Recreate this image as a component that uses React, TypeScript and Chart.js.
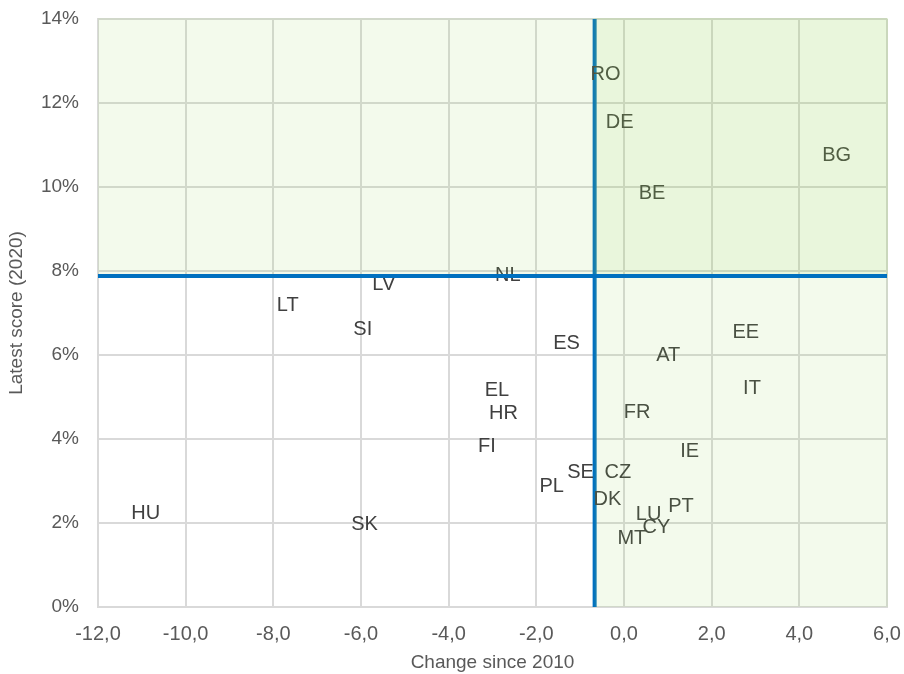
import React, { useEffect, useRef } from "react";
import { Chart, registerables } from "chart.js";

Chart.register(...registerables);

const countries = ["RO", "DE", "BG", "BE", "NL", "LV", "LT", "SI", "ES", "EE", "AT", "IT", "EL", "HR", "FR", "FI", "IE", "SE", "CZ", "PL", "DK", "PT", "LU", "CY", "MT", "HU", "SK"];
const changeSince2010 = [-0.42, -0.10, 4.85, 0.64, -2.65, -5.48, -7.67, -5.96, -1.31, 2.78, 1.01, 2.92, -2.90, -2.75, 0.30, -3.13, 1.50, -0.99, -0.14, -1.65, -0.38, 1.30, 0.56, 0.74, 0.18, -10.91, -5.92];
const latestScore2020 = [12.67, 11.53, 10.76, 9.85, 7.90, 7.68, 7.19, 6.61, 6.27, 6.53, 6.00, 5.20, 5.16, 4.61, 4.64, 3.81, 3.71, 3.20, 3.21, 2.86, 2.56, 2.40, 2.20, 1.89, 1.63, 2.22, 1.97];

const averageChange = -0.67;
const averageScore = 7.88;

const xMin = -12;
const xMax = 6;
const xStep = 2;
const yMin = 0;
const yMax = 14;
const yStep = 2;

const xTitle = "Change since 2010";
const yTitle = "Latest score (2020)";

const FONT = "'Liberation Sans', Arial, sans-serif";

export default function App() {
  const ref = useRef<HTMLCanvasElement | null>(null);

  useEffect(() => {
    document.body.style.margin = "0";
    const canvas = ref.current;
    if (!canvas) return;

    const quadrantPlugin = {
      id: "quadrants",
      afterDatasetsDraw(chart: any) {
        const { ctx, chartArea, scales } = chart;
        const xs = scales.x;
        const ys = scales.y;
        const vx = xs.getPixelForValue(averageChange);
        const hy = ys.getPixelForValue(averageScore);
        ctx.save();
        ctx.strokeStyle = "#0070c0";
        ctx.lineWidth = 4;
        ctx.beginPath();
        ctx.moveTo(vx, chartArea.top);
        ctx.lineTo(vx, chartArea.bottom);
        ctx.stroke();
        ctx.fillStyle = "#404040";
        ctx.font = `20px ${FONT}`;
        ctx.textAlign = "center";
        ctx.textBaseline = "middle";
        const meta = chart.getDatasetMeta(0);
        meta.data.forEach((pt: any, i: number) => {
          ctx.fillText(countries[i], pt.x, pt.y);
        });
        ctx.fillStyle = "rgba(146,208,80,0.11)";
        ctx.fillRect(chartArea.left, chartArea.top - 1, chartArea.right - chartArea.left + 1, hy - chartArea.top + 1);
        ctx.fillRect(vx, chartArea.top - 1, chartArea.right - vx + 1, chartArea.bottom - chartArea.top + 1);
        ctx.strokeStyle = "#0070c0";
        ctx.lineWidth = 4;
        ctx.beginPath();
        ctx.moveTo(chartArea.left, hy);
        ctx.lineTo(chartArea.right, hy);
        ctx.stroke();
        ctx.restore();
      },
    };

    const chart = new Chart(canvas, {
      type: "scatter",
      data: {
        datasets: [
          {
            label: "Countries",
            data: countries.map((c, i) => ({ x: changeSince2010[i], y: latestScore2020[i] })),
            pointRadius: 0,
            pointHoverRadius: 0,
          },
        ],
      },
      options: {
        responsive: false,
        animation: false,
        layout: { padding: { top: 19, right: 17, left: 0, bottom: 0 } },
        plugins: {
          legend: { display: false },
          tooltip: { enabled: false },
        },
        scales: {
          x: {
            type: "linear",
            min: xMin,
            max: xMax,
            afterFit: (s: any) => {
              s.height = 67;
              s.paddingLeft = 0;
              s.paddingRight = 0;
            },
            ticks: {
              stepSize: xStep,
              padding: 15,
              color: "#595959",
              font: { family: FONT, size: 20 },
              maxRotation: 0,
              callback: (v: any) => Number(v).toFixed(1).replace(".", ","),
            },
            grid: { color: "#d9d9d9", lineWidth: 2, drawTicks: false },
            border: { color: "#d9d9d9", width: 2 },
            title: {
              display: true,
              text: xTitle,
              color: "#595959",
              font: { family: FONT, size: 19 },
              padding: { top: 0, bottom: 0 },
            },
          },
          y: {
            type: "linear",
            min: yMin,
            max: yMax,
            afterFit: (s: any) => {
              s.width = 98;
              s.paddingTop = 0;
              s.paddingBottom = 0;
            },
            ticks: {
              stepSize: yStep,
              padding: 19,
              color: "#595959",
              font: { family: FONT, size: 19 },
              callback: (v: any) => `${Math.round(Number(v))}%`,
            },
            grid: { color: "#d9d9d9", lineWidth: 2, drawTicks: false },
            border: { color: "#d9d9d9", width: 2 },
            title: {
              display: true,
              text: yTitle,
              color: "#595959",
              font: { family: FONT, size: 19 },
              padding: { top: 5, bottom: 0 },
            },
          },
        },
      },
      plugins: [quadrantPlugin],
    });

    return () => {
      chart.destroy();
    };
  }, []);

  return (
    <div style={{ width: 904, height: 674 }}>
      <canvas ref={ref} width={904} height={674} style={{ display: "block" }} />
    </div>
  );
}
